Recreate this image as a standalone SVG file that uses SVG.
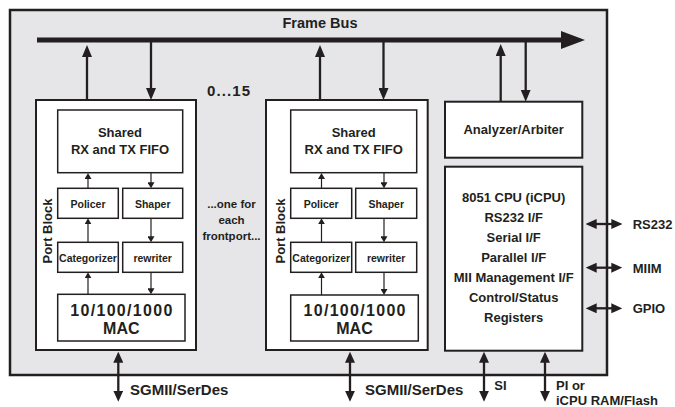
<svg xmlns="http://www.w3.org/2000/svg" width="675" height="407" viewBox="0 0 675 407">
<defs>
<style>
text{font-family:"Liberation Sans",Arial,sans-serif;font-weight:bold;fill:#231f20;}
.box{fill:#fff;stroke:#231f20;stroke-width:1.5;}
.blk{fill:#fff;stroke:#231f20;stroke-width:2;}
.big{stroke:#231f20;stroke-width:2.3;fill:none;marker-end:url(#ah);}
.sm{stroke:#231f20;stroke-width:1.2;fill:none;marker-end:url(#sh);}
.bi{stroke:#231f20;stroke-width:2.3;fill:none;marker-start:url(#bh);marker-end:url(#bh);}
.t13{font-size:13px;text-anchor:middle;}
.t10{font-size:10.5px;text-anchor:middle;}
.mac{font-size:16px;text-anchor:middle;}
.cpu{font-size:13px;text-anchor:middle;}
.lbl{font-size:15px;}
.io{font-size:13px;}
</style>
<marker id="ah" markerUnits="userSpaceOnUse" markerWidth="12" markerHeight="10" refX="1" refY="5" orient="auto"><path d="M0,0 L12,5 L0,10 z" fill="#231f20"/></marker>
<marker id="sh" markerUnits="userSpaceOnUse" markerWidth="7" markerHeight="7" refX="1" refY="3.5" orient="auto"><path d="M0,0 L6,3.5 L0,7 z" fill="#231f20"/></marker>
<marker id="bh" markerUnits="userSpaceOnUse" markerWidth="11" markerHeight="10" refX="1" refY="5" orient="auto-start-reverse"><path d="M0,0 L11,5 L0,10 z" fill="#231f20"/></marker>
<marker id="bus" markerUnits="userSpaceOnUse" markerWidth="24" markerHeight="18" refX="1" refY="9" orient="auto"><path d="M0,0 L24,9 L0,18 z" fill="#231f20"/></marker>
</defs>

<g id="chip">
<rect x="10" y="10" width="597" height="365" fill="#e6e6e8" stroke="#231f20" stroke-width="2.5"/>
<text x="320" y="28" font-size="14.5" text-anchor="middle">Frame Bus</text>
</g>

<g id="portblock1">
<rect class="blk" x="36" y="100" width="160" height="250"/>
<text transform="translate(51.5,231) rotate(-90)" font-size="13" text-anchor="middle">Port Block</text>
<g id="fifo1"><rect class="box" x="57.7" y="110" width="125" height="62.7"/>
<text class="t13" x="120" y="137">Shared</text><text class="t13" x="120" y="154">RX and TX FIFO</text></g>
<g id="policer1"><rect class="box" x="57.7" y="188.3" width="60.6" height="30"/><text class="t10" x="88" y="207.5">Policer</text></g>
<g id="shaper1"><rect class="box" x="122.7" y="188.3" width="60" height="30"/><text class="t10" x="152.7" y="207.5">Shaper</text></g>
<g id="categorizer1"><rect class="box" x="57.7" y="242.3" width="60.6" height="30"/><text class="t10" x="88" y="261.5">Categorizer</text></g>
<g id="rewriter1"><rect class="box" x="122.7" y="242.3" width="60" height="30"/><text class="t10" x="152.7" y="261.5">rewriter</text></g>
<g id="mac1"><rect class="box" x="57.7" y="294.3" width="127.3" height="46.7"/>
<text class="mac" x="121.3" y="316" textLength="102" lengthAdjust="spacing">10/100/1000</text><text class="mac" x="121.3" y="334">MAC</text></g>
</g>

<g id="portblock2">
<rect class="blk" x="266" y="100" width="161.7" height="250"/>
<text transform="translate(285,231) rotate(-90)" font-size="13" text-anchor="middle">Port Block</text>
<g id="fifo2"><rect class="box" x="290.7" y="110" width="126" height="62.7"/>
<text class="t13" x="353.7" y="137">Shared</text><text class="t13" x="353.7" y="154">RX and TX FIFO</text></g>
<g id="policer2"><rect class="box" x="290.7" y="188.3" width="61" height="30"/><text class="t10" x="321.2" y="207.5">Policer</text></g>
<g id="shaper2"><rect class="box" x="355.7" y="188.3" width="61" height="30"/><text class="t10" x="386.2" y="207.5">Shaper</text></g>
<g id="categorizer2"><rect class="box" x="290.7" y="242.3" width="61" height="30"/><text class="t10" x="321.2" y="261.5">Categorizer</text></g>
<g id="rewriter2"><rect class="box" x="355.7" y="242.3" width="61" height="30"/><text class="t10" x="386.2" y="261.5">rewriter</text></g>
<g id="mac2"><rect class="box" x="290.7" y="295" width="127.6" height="46"/>
<text class="mac" x="354.5" y="316" textLength="102" lengthAdjust="spacing">10/100/1000</text><text class="mac" x="354.5" y="334">MAC</text></g>
</g>

<g id="annotations">
<text x="207" y="96" font-size="15" textLength="43" lengthAdjust="spacing">0...15</text>
<text x="231.5" y="208" font-size="11.5" text-anchor="middle">...one for</text>
<text x="231.5" y="224" font-size="11.5" text-anchor="middle">each</text>
<text x="231.5" y="240" font-size="11.5" text-anchor="middle">frontport...</text>
</g>

<g id="analyzer">
<rect class="blk" x="445" y="101.7" width="137.3" height="56"/>
<text class="t13" x="513.7" y="134">Analyzer/Arbiter</text>
</g>

<g id="cpu">
<rect class="blk" x="445" y="166.7" width="137.3" height="184"/>
<text class="cpu" x="513.7" y="202">8051 CPU (iCPU)</text>
<text class="cpu" x="513.7" y="222">RS232 I/F</text>
<text class="cpu" x="513.7" y="242">Serial I/F</text>
<text class="cpu" x="513.7" y="262">Parallel I/F</text>
<text class="cpu" x="513.7" y="282">MII Management I/F</text>
<text class="cpu" x="513.7" y="302">Control/Status</text>
<text class="cpu" x="513.7" y="322">Registers</text>
</g>

<g id="connectors">
<line x1="37" y1="40" x2="562" y2="40" stroke="#231f20" stroke-width="5" marker-end="url(#bus)"/>
<line class="big" x1="87" y1="100" x2="87" y2="56"/>
<line class="big" x1="151" y1="41" x2="151" y2="89"/>
<line class="big" x1="320" y1="100" x2="320" y2="56"/>
<line class="big" x1="383.5" y1="41" x2="383.5" y2="89"/>
<line class="big" x1="500.7" y1="101.7" x2="500.7" y2="55"/>
<line class="big" x1="525.7" y1="41" x2="525.7" y2="90.7"/>

<line class="sm" x1="88" y1="188.3" x2="88" y2="178"/>
<line class="sm" x1="151" y1="172.7" x2="151" y2="183.3"/>
<line class="sm" x1="88" y1="242.3" x2="88" y2="223.3"/>
<line class="sm" x1="151" y1="218.3" x2="151" y2="237.3"/>
<line class="sm" x1="88" y1="294.3" x2="88" y2="277.3"/>
<line class="sm" x1="151" y1="272.3" x2="151" y2="289.3"/>

<line class="sm" x1="321.5" y1="188.3" x2="321.5" y2="178"/>
<line class="sm" x1="384" y1="172.7" x2="384" y2="183.3"/>
<line class="sm" x1="321.5" y1="242.3" x2="321.5" y2="223.3"/>
<line class="sm" x1="384" y1="218.3" x2="384" y2="237.3"/>
<line class="sm" x1="321.5" y1="295" x2="321.5" y2="277.3"/>
<line class="sm" x1="384" y1="272.3" x2="384" y2="290"/>

<line class="bi" x1="118.3" y1="361.7" x2="118.3" y2="391.7"/>
<line class="bi" x1="350" y1="361.7" x2="350" y2="391.7"/>
<line class="bi" x1="484" y1="361.7" x2="484" y2="391.7"/>
<line class="bi" x1="545" y1="361.7" x2="545" y2="391.7"/>

<line class="bi" x1="595.7" y1="224" x2="612.3" y2="224"/>
<line class="bi" x1="595.7" y1="267.7" x2="612.3" y2="267.7"/>
<line class="bi" x1="595.7" y1="308.3" x2="612.3" y2="308.3"/>
</g>

<g id="io-labels">
<text class="lbl" x="130" y="395">SGMII/SerDes</text>
<text class="lbl" x="365" y="395">SGMII/SerDes</text>
<text class="io" x="494.3" y="390">SI</text>
<text class="io" x="556" y="390">PI or</text>
<text class="io" x="556" y="405">iCPU RAM/Flash</text>
<text class="io" x="632.7" y="229">RS232</text>
<text class="io" x="632.7" y="272.5">MIIM</text>
<text class="io" x="632.7" y="313">GPIO</text>
</g>
</svg>
